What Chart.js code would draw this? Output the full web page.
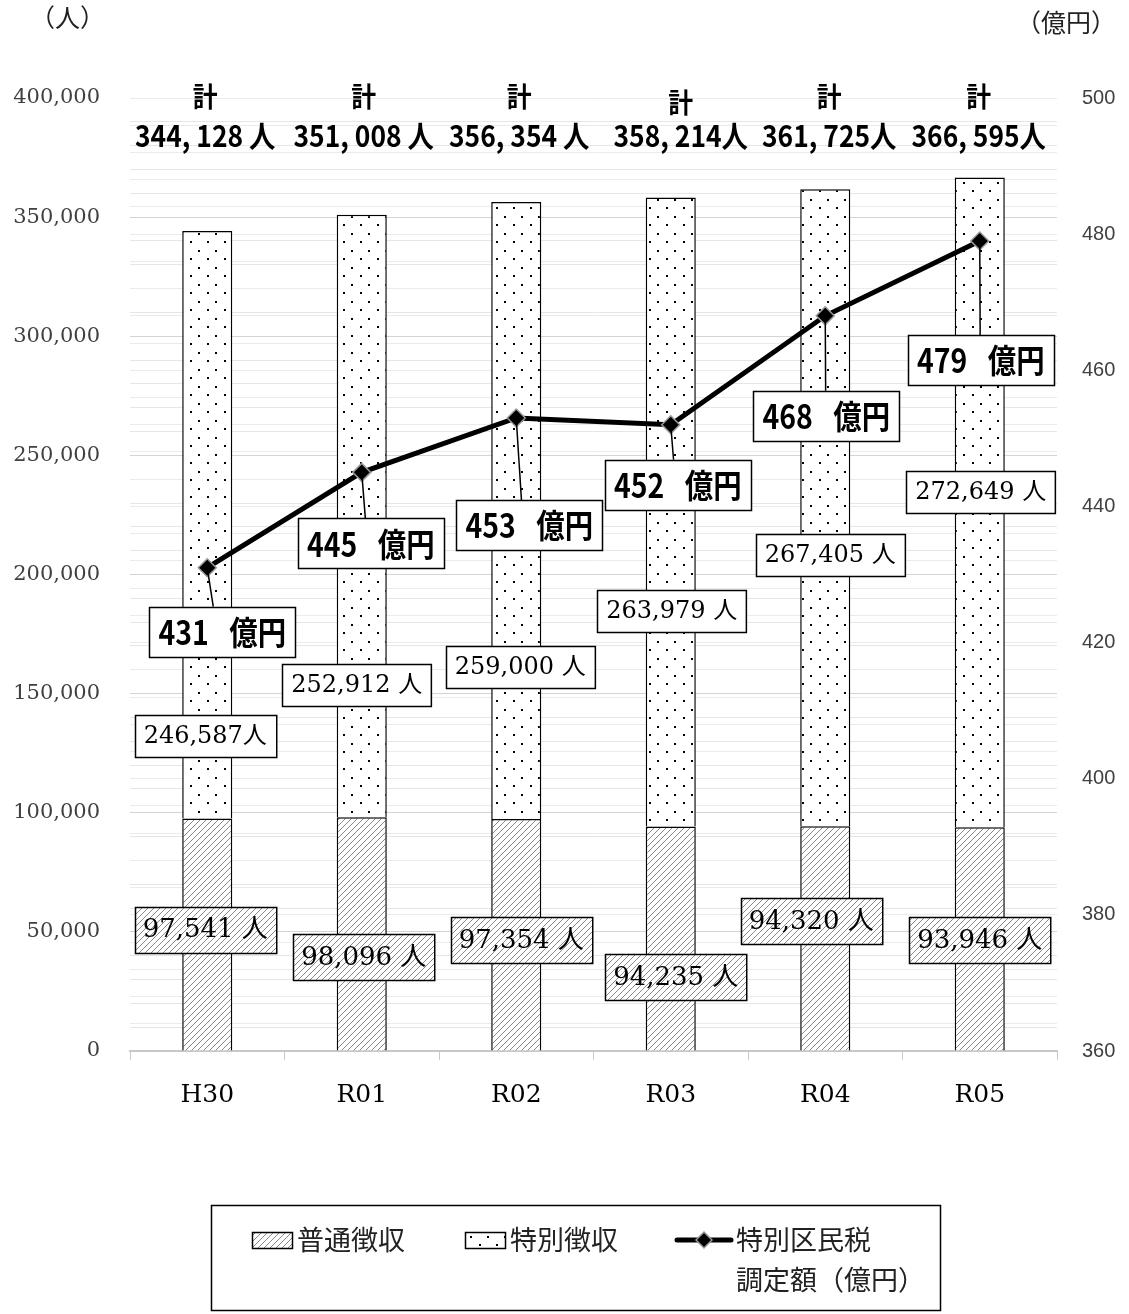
<!DOCTYPE html>
<html lang="ja">
<head>
<meta charset="utf-8">
<title>特別区民税 調定額と納税義務者数</title>
<script src="https://cdn.jsdelivr.net/npm/chart.js@4.4.1/dist/chart.umd.min.js"></script>
<style>
  html, body { margin: 0; padding: 0; background: #fff; }
  #wrap { position: relative; width: 1129px; height: 1314px; }
</style>
</head>
<body>
<div id="wrap"><canvas id="taxChart"></canvas></div>
<script>
// ---- data ----
const years = ['H30', 'R01', 'R02', 'R03', 'R04', 'R05'];
const futsuCount = [97541, 98096, 97354, 94235, 94320, 93946];            // 普通徴収 (人)
const tokubetsuCount = [246587, 252912, 259000, 263979, 267405, 272649];  // 特別徴収 (人)
const taxAmount = [431, 445, 453, 452, 468, 479];                         // 調定額 (億円)

// axis ranges
const leftMin = 0, leftMax = 400000, leftLabelStep = 50000, leftGridStep = 10000;
const rightMin = 360, rightMax = 500, rightLabelStep = 20, rightGridStep = 4;

// label text suffixes (spacing as printed)
const tokuSuffix = ['人', ' 人', ' 人', ' 人', ' 人', ' 人'];
const totalSuffix = [' 人', ' 人', ' 人', '人', '人', '人'];

// label box offsets in px: [dx, dy] from the anchor point
const lineLabelOffset = [[15, 64], [9, 71], [13, 107], [7, 60], [1, 100], [1, 119]];
const tokuLabelOffset = [[-2, 505], [-5, 470], [4, 465], [1, 413], [5, 366], [1, 314]];
const futsuLabelOffset = [[-2, 111], [2, 140], [5, 121], [5, 151], [-14, 95], [0, 113]];
const totalDx = [-2, 2, 3, 10, 4, -1];
const keiDy = [0, 0, 0, 6, 0, 0];

const JP = '"Noto Sans CJK JP"';
const SERIF = '"DejaVu Serif", ' + JP;

const canvas = document.getElementById('taxChart');
const g = canvas.getContext('2d');

// hatch pattern for 普通徴収
function makeHatch() {
    const c = document.createElement('canvas');
    c.width = 6; c.height = 6;
    const p = c.getContext('2d');
    p.fillStyle = '#fff';
    p.fillRect(0, 0, 6, 6);
    p.strokeStyle = '#8a8a8a';
    p.lineWidth = 1;
    p.beginPath();
    p.moveTo(0, 6); p.lineTo(6, 0);
    p.moveTo(-1, 1); p.lineTo(1, -1);
    p.moveTo(5, 7); p.lineTo(7, 5);
    p.stroke();
    return g.createPattern(c, 'repeat');
}

// dotted pattern for 特別徴収
function makeDots() {
    const c = document.createElement('canvas');
    c.width = 17; c.height = 17;
    const p = c.getContext('2d');
    p.fillStyle = '#fff';
    p.fillRect(0, 0, 17, 17);
    p.fillStyle = '#000';
    p.fillRect(3, 3, 2, 2);
    p.fillRect(11, 12, 2, 2);
    return g.createPattern(c, 'repeat');
}

const hatch = makeHatch();
const dots = makeDots();

function fmtNum(n) {
    return n.toLocaleString('en-US');
}

// text squeezed horizontally (condensed gothic look)
function squeezeText(ctx, text, x, y, sx) {
    ctx.save();
    ctx.translate(x, y);
    ctx.scale(sx, 1);
    ctx.fillText(text, 0, 0);
    ctx.restore();
}

function drawBox(ctx, cx, cy, text, font, pad, minW, h, fill, sx) {
    sx = sx || 1;
    ctx.font = font;
    const w = Math.max(minW, ctx.measureText(text).width * sx + pad * 2);
    const x = Math.round(cx - w / 2) + 0.5;
    const y = Math.round(cy - h / 2) + 0.5;
    ctx.fillStyle = fill;
    ctx.fillRect(x, y, w, h);
    ctx.strokeStyle = '#000';
    ctx.lineWidth = 1.5;
    ctx.strokeRect(x, y, w, h);
    ctx.fillStyle = '#000';
    ctx.textAlign = 'center';
    ctx.textBaseline = 'middle';
    squeezeText(ctx, text, cx, cy + 1, sx);
    return y;
}

// value labels, callouts and totals
const labelPlugin = {
    id: 'labelPlugin',
    afterDatasetsDraw(chart) {
        const ctx = chart.ctx;
        const futsuMeta = chart.getDatasetMeta(0);
        const tokuMeta = chart.getDatasetMeta(1);
        const lineMeta = chart.getDatasetMeta(2);
        const top = chart.chartArea.top;
        ctx.save();

        years.forEach((yr, i) => {
            // 普通徴収 labels
            const fb = futsuMeta.data[i];
            drawBox(ctx, fb.x + futsuLabelOffset[i][0], fb.y + futsuLabelOffset[i][1],
                fmtNum(futsuCount[i]) + ' 人', '26px ' + SERIF, 8, 0, 46, hatch);

            // 特別徴収 labels
            const tb = tokuMeta.data[i];
            drawBox(ctx, tb.x + tokuLabelOffset[i][0], tb.y + tokuLabelOffset[i][1],
                fmtNum(tokubetsuCount[i]) + tokuSuffix[i], '24px ' + SERIF, 9, 0, 42, '#fff');

            // 調定額 labels with callout line
            const pt = lineMeta.data[i];
            const cx = pt.x + lineLabelOffset[i][0];
            const cy = pt.y + lineLabelOffset[i][1];
            ctx.strokeStyle = '#000';
            ctx.lineWidth = 1.5;
            ctx.beginPath();
            ctx.moveTo(pt.x, pt.y);
            ctx.lineTo(pt.x + lineLabelOffset[i][0] * 0.4, cy - 25);
            ctx.stroke();
            drawBox(ctx, cx, cy, taxAmount[i] + '\u2002 億円', 'bold 33px ' + JP, 9, 146, 50, '#fff', 0.86);

            // totals
            const total = futsuCount[i] + tokubetsuCount[i];
            const tx = tb.x + totalDx[i];
            ctx.fillStyle = '#000';
            ctx.textAlign = 'center';
            ctx.textBaseline = 'middle';
            ctx.font = 'bold 27px ' + JP;
            squeezeText(ctx, '計', tx, top - 1 + keiDy[i], 0.92);
            ctx.font = 'bold 30px ' + JP;
            squeezeText(ctx, fmtNum(total).replace(',', ', ') + totalSuffix[i], tx, top + 38, 0.88);
        });
        ctx.restore();
    },
    afterDraw(chart) {
        const ctx = chart.ctx;
        ctx.save();
        // axis unit titles
        ctx.fillStyle = '#222';
        ctx.textBaseline = 'middle';
        ctx.font = '25px ' + JP;
        ctx.textAlign = 'left';
        ctx.fillText('（人）', 30, 17);
        ctx.textAlign = 'right';
        ctx.fillText('（億円）', 1116, 22);

        // legend
        ctx.strokeStyle = '#000';
        ctx.lineWidth = 1.5;
        ctx.strokeRect(211.5, 1205.5, 729, 105);

        ctx.fillStyle = hatch;
        ctx.fillRect(252, 1232, 40, 16);
        ctx.lineWidth = 1.5;
        ctx.strokeRect(252.5, 1232.5, 40, 16);
        ctx.fillStyle = dots;
        ctx.fillRect(465, 1232, 40, 16);
        ctx.strokeRect(465.5, 1232.5, 40, 16);

        ctx.strokeStyle = '#000';
        ctx.lineWidth = 5;
        ctx.lineCap = 'round';
        ctx.beginPath();
        ctx.moveTo(677, 1240);
        ctx.lineTo(731, 1240);
        ctx.stroke();
        ctx.lineCap = 'butt';
        ctx.beginPath();
        ctx.moveTo(704, 1232); ctx.lineTo(712, 1240); ctx.lineTo(704, 1248); ctx.lineTo(696, 1240);
        ctx.closePath();
        ctx.fillStyle = '#000';
        ctx.fill();
        ctx.strokeStyle = '#999';
        ctx.lineWidth = 1.5;
        ctx.stroke();

        ctx.fillStyle = '#222';
        ctx.font = '27px ' + JP;
        ctx.textAlign = 'left';
        ctx.textBaseline = 'middle';
        ctx.fillText('普通徴収', 297, 1240);
        ctx.fillText('特別徴収', 510, 1240);
        ctx.fillText('特別区民税', 736, 1240);
        ctx.fillText('調定額（億円）', 736, 1280);
        ctx.restore();
    }
};

new Chart(g, {
    data: {
        labels: years,
        datasets: [{
            type: 'bar',
            label: '普通徴収',
            data: futsuCount,
            yAxisID: 'y',
            backgroundColor: hatch,
            borderColor: '#000',
            borderWidth: 1.5,
            categoryPercentage: 1,
            barPercentage: 0.324,
            order: 2
        }, {
            type: 'bar',
            label: '特別徴収',
            data: tokubetsuCount,
            yAxisID: 'y',
            backgroundColor: dots,
            borderColor: '#000',
            borderWidth: 1.5,
            categoryPercentage: 1,
            barPercentage: 0.324,
            order: 2
        }, {
            type: 'line',
            label: '特別区民税調定額（億円）',
            data: taxAmount,
            yAxisID: 'y1',
            borderColor: '#000',
            borderWidth: 5,
            pointStyle: 'rectRot',
            pointRadius: 9,
            pointBackgroundColor: '#000',
            pointBorderColor: '#999',
            pointBorderWidth: 1.5,
            tension: 0,
            order: 0
        }]
    },
    options: {
        responsive: true,
        maintainAspectRatio: false,
        animation: false,
        layout: {
            padding: { top: 98, bottom: 203, left: 0, right: 0 }
        },
        plugins: {
            legend: { display: false },
            tooltip: { enabled: false }
        },
        scales: {
            x: {
                stacked: true,
                offset: true,
                grid: {
                    display: true,
                    drawOnChartArea: false,
                    drawTicks: true,
                    tickLength: 9,
                    color: '#c8c8c8',
                    offset: true
                },
                border: { color: '#c8c8c8', width: 2 },
                ticks: {
                    font: { family: 'DejaVu Serif', size: 25 },
                    color: '#000',
                    padding: 20
                },
                afterFit: (s) => { s.height = 60; }
            },
            y: {
                stacked: true,
                position: 'left',
                min: leftMin,
                max: leftMax,
                border: { display: false },
                grid: {
                    color: (c) => (c.tick && c.tick.value % leftLabelStep === 0) ? '#d4d4d4' : '#e6e6e6',
                    drawTicks: false
                },
                ticks: {
                    stepSize: leftGridStep,
                    autoSkip: false,
                    callback: (v) => v % leftLabelStep === 0 ? fmtNum(v) : '',
                    font: { family: 'DejaVu Serif', size: 21 },
                    color: '#404040',
                    padding: 30
                },
                afterFit: (s) => { s.width = 130; }
            },
            y1: {
                position: 'right',
                min: rightMin,
                max: rightMax,
                border: { display: false },
                grid: {
                    color: '#ebebeb',
                    drawTicks: false
                },
                ticks: {
                    stepSize: rightGridStep,
                    autoSkip: false,
                    callback: (v) => v % rightLabelStep === 0 ? v : '',
                    font: { family: 'Liberation Sans', size: 20 },
                    color: '#404040',
                    padding: 25
                },
                afterFit: (s) => { s.width = 72; }
            }
        }
    },
    plugins: [labelPlugin]
});
</script>
</body>
</html>
